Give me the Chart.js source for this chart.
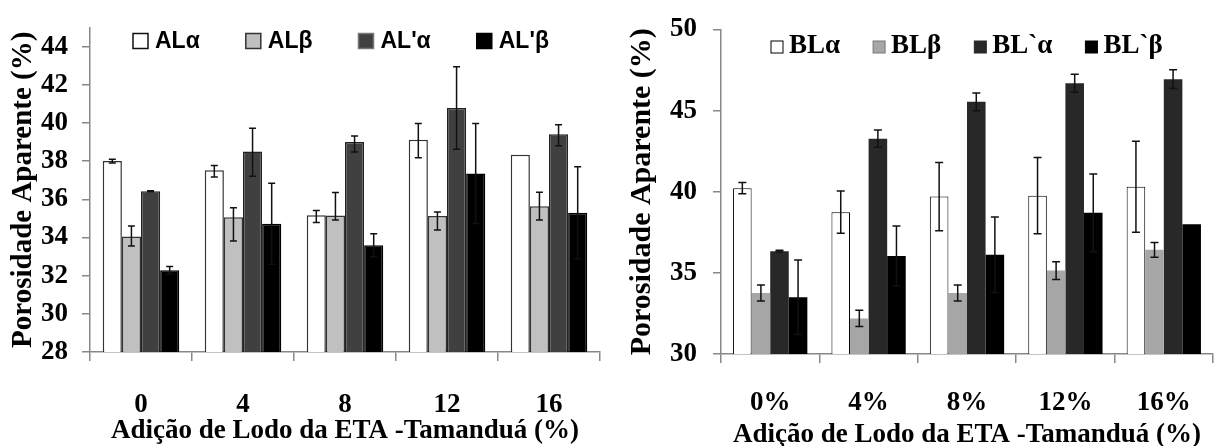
<!DOCTYPE html>
<html>
<head>
<meta charset="utf-8">
<title>Porosidade Aparente</title>
<style>
  body { margin: 0; background: #fff; }
  .wrap { position: absolute; top: 0; width: 613px; height: 446px; }
</style>
</head>
<body>
<div class="wrap" style="left:0"><canvas id="chartA" width="613" height="446"></canvas></div>
<div class="wrap" style="left:613px"><canvas id="chartB" width="613" height="446"></canvas></div>

<script src="https://cdn.jsdelivr.net/npm/chart.js"></script>
<script>
// ---- gráfico A (AL) ----
var catsA = ['0', '4', '8', '12', '16'];
var ticksA = [28, 30, 32, 34, 36, 38, 40, 42, 44];
var alA   = [38.0, 37.52, 35.16, 39.12, 38.34];
var alAUp = [0.1, 0.25, 0.25, 0.85, 0];
var alADn = [0.1, 0.35, 0.38, 0.95, 0];
var alB   = [34.05, 35.06, 35.15, 35.13, 35.64];
var alBUp = [0.55, 0.5, 1.2, 0.2, 0.73];
var alBDn = [0.5, 1.25, 0.24, 0.74, 0.72];
var alpA   = [36.42, 38.5, 39.0, 40.78, 39.41];
var alpAUp = [0.03, 1.22, 0.32, 2.17, 0.49];
var alpADn = [0.03, 1.29, 0.52, 2.16, 0.6];
var alpB   = [32.28, 34.72, 33.59, 37.35, 35.3];
var alpBErr = [0.2, 2.12, 0.6, 2.62, 2.41];

// ---- gráfico B (BL) ----
var catsB = ['0%', '4%', '8%', '12%', '16%'];
var ticksB = [30, 35, 40, 45, 50];
var blA    = [40.22, 38.74, 39.7, 39.76, 40.31];
var blAErr = [0.35, 1.3, 2.1, 2.35, 2.8];
var blB    = [33.76, 32.19, 33.76, 35.14, 36.42];
var blBErr = [0.5, 0.5, 0.5, 0.55, 0.45];
var blpA    = [36.34, 43.27, 45.54, 46.69, 46.94];
var blpAErr = [0.05, 0.53, 0.55, 0.55, 0.58];
var blpB    = [33.5, 36.04, 36.12, 38.7, 37.99];
var blpBErr = [2.3, 1.85, 2.33, 2.4, 0];

// barras de erro desenhadas sobre as barras
var errorBars = {
  id: 'errorBars',
  afterDatasetsDraw: function (chart, args, opts) {
    var ctx = chart.ctx;
    var ys = chart.scales.y;
    ctx.save();
    ctx.lineWidth = opts.width;
    ctx.strokeStyle = opts.color;
    chart.data.datasets.forEach(function (ds, i) {
      if (!ds.errUp) return;
      var meta = chart.getDatasetMeta(i);
      meta.data.forEach(function (bar, j) {
        var up = ds.errUp[j], dn = ds.errDown[j];
        if (!up && !dn) return;
        var v = ds.data[j];
        var y1 = ys.getPixelForValue(v + up);
        var y2 = ys.getPixelForValue(v - dn);
        var x = bar.x, c = opts.cap;
        ctx.beginPath();
        ctx.moveTo(x, y1); ctx.lineTo(x, y2);
        ctx.moveTo(x - c, y1); ctx.lineTo(x + c, y1);
        ctx.moveTo(x - c, y2); ctx.lineTo(x + c, y2);
        ctx.stroke();
      });
    });
    ctx.restore();
  }
};

// legenda dentro da área do gráfico
var boxLegend = {
  id: 'boxLegend',
  afterDraw: function (chart, args, o) {
    var ctx = chart.ctx;
    ctx.save();
    ctx.font = o.font;
    ctx.textBaseline = 'middle';
    var x = o.x;
    chart.data.datasets.forEach(function (ds) {
      ctx.fillStyle = ds.backgroundColor;
      ctx.fillRect(x, o.y - o.box / 2, o.box, o.box);
      ctx.lineWidth = o.line;
      ctx.strokeStyle = ds.legendBorder;
      ctx.strokeRect(x, o.y - o.box / 2, o.box, o.box);
      ctx.fillStyle = '#000';
      ctx.fillText(ds.label, x + o.box + o.gap, o.y + o.dy);
      x += o.box + o.gap + ctx.measureText(ds.label).width + o.space;
    });
    ctx.restore();
  }
};

var serif = 'Liberation Serif';

function makeChart(id, cats, ticks, min, max, datasets, cfg) {
  return new Chart(document.getElementById(id), {
    type: 'bar',
    data: { labels: cats, datasets: datasets },
    plugins: [errorBars, boxLegend],
    options: {
      responsive: false,
      animation: false,
      layout: { padding: { top: cfg.top, right: 13, left: 0, bottom: 0 } },
      datasets: { bar: { categoryPercentage: cfg.catPct, barPercentage: 1.0 } },
      plugins: {
        legend: { display: false },
        tooltip: { enabled: false },
        errorBars: { width: 1.5, color: '#111', cap: cfg.cap },
        boxLegend: cfg.legend
      },
      scales: {
        x: {
          grid: { offset: true, drawOnChartArea: false, tickLength: 9, color: '#888', lineWidth: 1.5 },
          border: { color: '#888', width: 1.5 },
          ticks: { color: '#000', padding: cfg.xPad, font: { family: serif, weight: 'bold', size: 27, lineHeight: 1 } },
          title: {
            display: true, text: 'Adição de Lodo da ETA -Tamanduá (%)', color: '#000',
            padding: { top: 0, bottom: cfg.xTitlePad },
            font: { family: serif, weight: 'bold', size: 27, lineHeight: 1 }
          },
          afterFit: function (s) { s.height = cfg.xH; }
        },
        y: {
          min: min, max: max,
          afterBuildTicks: function (s) { s.ticks = ticks.map(function (v) { return { value: v }; }); },
          grid: { drawOnChartArea: false, tickLength: 8, color: '#888', lineWidth: 1.5 },
          border: { color: '#888', width: 1.5 },
          ticks: { color: '#000', padding: cfg.yPad, font: { family: serif, weight: 'bold', size: 27, lineHeight: 1 } },
          title: {
            display: true, text: 'Porosidade Aparente (%)', color: '#000',
            padding: { top: cfg.yTitlePad, bottom: 0 },
            font: { family: serif, weight: 'bold', size: cfg.yTitleSize, lineHeight: 1 }
          },
          afterFit: function (s) { s.width = cfg.yW; }
        }
      }
    }
  });
}

makeChart('chartA', catsA, ticksA, 28, 45, [
  { label: 'ALα', data: alA, errUp: alAUp, errDown: alADn, backgroundColor: '#ffffff', borderColor: '#333', legendBorder: '#111', borderWidth: 1.5 },
  { label: 'ALβ', data: alB, errUp: alBUp, errDown: alBDn, backgroundColor: '#c0c0c0', borderColor: '#333', legendBorder: '#333', borderWidth: 1.5 },
  { label: "AL'α", data: alpA, errUp: alpAUp, errDown: alpADn, backgroundColor: '#404040', borderColor: '#222', legendBorder: '#777', borderWidth: 1.5 },
  { label: "AL'β", data: alpB, errUp: alpBErr, errDown: alpBErr, backgroundColor: '#000000', borderColor: '#000', legendBorder: '#000', borderWidth: 1.5 }
], {
  top: 22, catPct: 0.75, cap: 3.5, xPad: 31, xTitlePad: 1, xH: 94, yPad: 14, yW: 90,
  yTitlePad: 9, yTitleSize: 29,
  legend: { font: 'bold 23px "Liberation Sans"', x: 133, y: 41, dy: 1, box: 15, gap: 7, space: 46, line: 1.5 }
});

makeChart('chartB', catsB, ticksB, 30, 50, [
  { label: 'BLα', data: blA, errUp: blAErr, errDown: blAErr, backgroundColor: '#ffffff', borderColor: '#000', legendBorder: '#000', borderWidth: 1 },
  { label: 'BLβ', data: blB, errUp: blBErr, errDown: blBErr, backgroundColor: '#a6a6a6', borderColor: '#a6a6a6', legendBorder: '#777', borderWidth: 0 },
  { label: 'BL`α', data: blpA, errUp: blpAErr, errDown: blpAErr, backgroundColor: '#282828', borderColor: '#282828', legendBorder: '#282828', borderWidth: 0 },
  { label: 'BL`β', data: blpB, errUp: blpBErr, errDown: blpBErr, backgroundColor: '#000000', borderColor: '#000', legendBorder: '#000', borderWidth: 0 }
], {
  top: 23, catPct: 0.755, cap: 4, xPad: 27, xTitlePad: -3, xH: 92, yPad: 16, yW: 108,
  yTitlePad: 14, yTitleSize: 30,
  legend: { font: 'bold 27px "Liberation Serif"', x: 158, y: 47, dy: -1, box: 12, gap: 6, space: 33, line: 1 }
});
</script>
</body>
</html>
